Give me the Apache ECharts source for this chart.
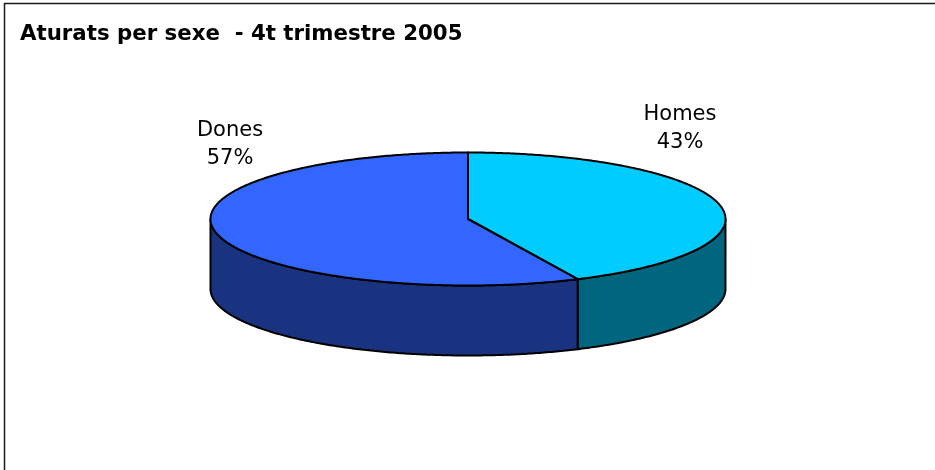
<!DOCTYPE html>
<html>
<head>
<meta charset="utf-8">
<script src="https://cdn.jsdelivr.net/npm/echarts@6/dist/echarts.min.js"></script>
<style>
  html, body { margin: 0; padding: 0; background: #fff; }
  #chart { width: 935px; height: 470px; }
</style>
</head>
<body>
<div id="chart"></div>
<script>
  // dades: aturats per sexe, 4t trimestre 2005 (%)
  const categories = ['Homes', 'Dones'];
  const values = [43, 57];

  // colors de la cara superior i del lateral
  const topColors = ['#00CCFF', '#3366FF'];
  const sideColors = ['#006680', '#1A3380'];

  // geometria del pastís 3D (el·lipse + gruix)
  const cx = 468, cy = 219, rx = 257.5, ry = 66.5, depth = 70;
  // on van les etiquetes (com a l'Excel, a sobre de l'el·lipse)
  const labelPos = [[680, 129], [230, 145]];

  const total = values.reduce((a, b) => a + b, 0);

  function pt(t, dz) {
    // t = angle en sentit horari des de dalt
    return [cx + rx * Math.sin(t), cy - ry * Math.cos(t) + dz];
  }

  function arc(t0, t1, dz) {
    const n = Math.max(2, Math.ceil(Math.abs(t1 - t0) / 0.01));
    const pts = [];
    for (let k = 0; k <= n; k++) pts.push(pt(t0 + (t1 - t0) * k / n, dz));
    return pts;
  }

  function renderItem(params, api) {
    const i = params.dataIndex;
    let start = 0;
    for (let k = 0; k < i; k++) start += values[k];
    const a0 = start / total * Math.PI * 2;
    const a1 = (start + api.value(0)) / total * Math.PI * 2;
    const children = [];

    // lateral visible (meitat de davant)
    const s0 = Math.max(a0, Math.PI / 2), s1 = Math.min(a1, Math.PI * 1.5);
    if (s1 > s0) {
      const side = arc(s0, s1, 0).concat(arc(s1, s0, depth));
      children.push({
        type: 'polygon',
        shape: { points: side },
        style: { fill: sideColors[i], stroke: '#000', lineWidth: 2, lineJoin: 'round' }
      });
    }

    // cara de dalt
    const top = [[cx, cy]].concat(arc(a0, a1, 0));
    children.push({
      type: 'polygon',
      shape: { points: top },
      style: { fill: topColors[i], stroke: '#000', lineWidth: 2, lineJoin: 'round' }
    });

    const pct = Math.round(api.value(0) / total * 100);
    children.push({
      type: 'text',
      x: labelPos[i][0],
      y: labelPos[i][1],
      style: {
        text: categories[i] + '\n' + pct + '%',
        align: 'center',
        verticalAlign: 'middle',
        fontFamily: 'DejaVu Sans',
        fontSize: 21,
        lineHeight: 28,
        fill: '#000'
      }
    });

    return { type: 'group', children: children };
  }

  const chart = echarts.init(document.getElementById('chart'), null, { renderer: 'canvas' });
  chart.setOption({
    animation: false,
    backgroundColor: '#fff',
    title: {
      text: 'Aturats per sexe  - 4t trimestre 2005',
      left: 20,
      top: 24,
      padding: 0,
      textStyle: { fontFamily: 'DejaVu Sans', fontSize: 21.3, fontWeight: 'bold', color: '#000' }
    },
    graphic: [{
      type: 'rect',
      shape: { x: 4.5, y: 3.5, width: 1200, height: 800 },
      style: { fill: 'none', stroke: '#1a1a1a', lineWidth: 1.5 },
      silent: true
    }],
    series: [{
      type: 'custom',
      coordinateSystem: 'none',
      renderItem: renderItem,
      data: values.map(v => [v])
    }]
  });
</script>
</body>
</html>
